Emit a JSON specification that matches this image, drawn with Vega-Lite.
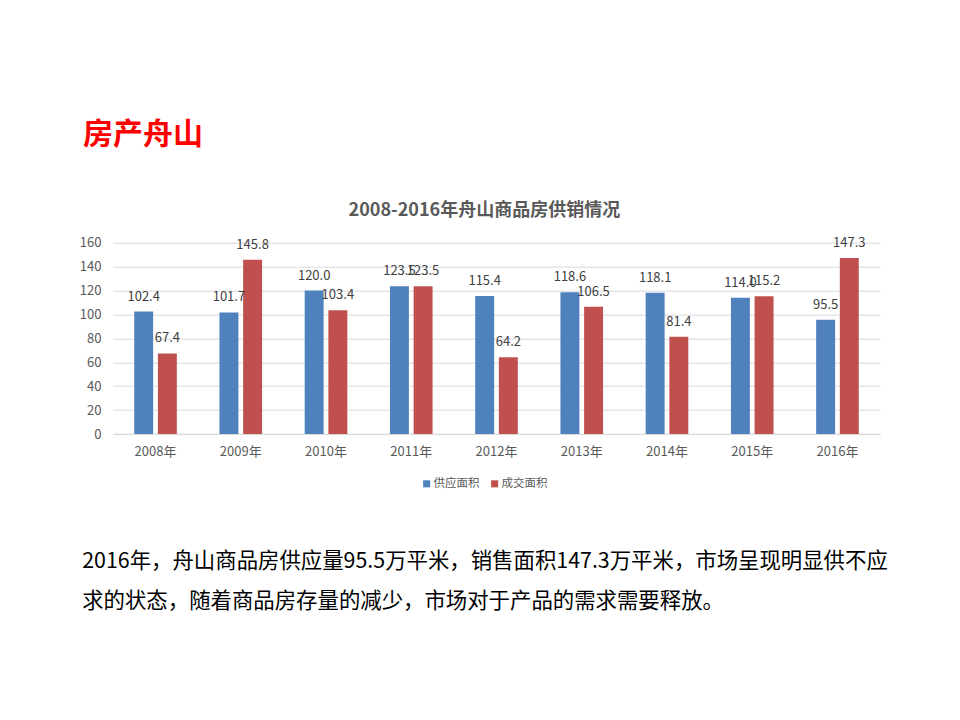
{
  "$schema": "https://vega.github.io/schema/vega-lite/v6.json",
  "width": 767.2,
  "height": 191.3,
  "autosize": "none",
  "padding": {"left": 112.9, "top": 242.7, "right": 79.9, "bottom": 286},
  "background": "#ffffff",
  "config": {
    "font": "Noto Sans CJK SC",
    "view": {"stroke": null}
  },
  "title": {
    "text": "房产舟山",
    "anchor": "start",
    "frame": "group",
    "dx": -30,
    "baseline": "bottom",
    "offset": 21,
    "fontSize": 30,
    "fontWeight": "bold",
    "color": "#ff0000"
  },
  "data": {
    "values": [
      {"year": "2008年", "series": "供应面积", "value": 102.4},
      {"year": "2008年", "series": "成交面积", "value": 67.4},
      {"year": "2009年", "series": "供应面积", "value": 101.7},
      {"year": "2009年", "series": "成交面积", "value": 145.8},
      {"year": "2010年", "series": "供应面积", "value": 120.0},
      {"year": "2010年", "series": "成交面积", "value": 103.4},
      {"year": "2011年", "series": "供应面积", "value": 123.5},
      {"year": "2011年", "series": "成交面积", "value": 123.5},
      {"year": "2012年", "series": "供应面积", "value": 115.4},
      {"year": "2012年", "series": "成交面积", "value": 64.2},
      {"year": "2013年", "series": "供应面积", "value": 118.6},
      {"year": "2013年", "series": "成交面积", "value": 106.5},
      {"year": "2014年", "series": "供应面积", "value": 118.1},
      {"year": "2014年", "series": "成交面积", "value": 81.4},
      {"year": "2015年", "series": "供应面积", "value": 114.0},
      {"year": "2015年", "series": "成交面积", "value": 115.2},
      {"year": "2016年", "series": "供应面积", "value": 95.5},
      {"year": "2016年", "series": "成交面积", "value": 147.3}
    ]
  },
  "encoding": {
    "x": {
      "field": "year",
      "type": "nominal",
      "sort": null,
      "scale": {"paddingInner": 0, "paddingOuter": 0},
      "axis": {
        "labelAngle": 0,
        "labelFontSize": 13,
        "labelColor": "#595959",
        "labelPadding": 11,
        "ticks": false,
        "domainColor": "#d9d9d9",
        "domainWidth": 1,
        "title": [
          "2016年，舟山商品房供应量95.5万平米，销售面积147.3万平米，市场呈现明显供不应",
          "求的状态，随着商品房存量的减少，市场对于产品的需求需要释放。"
        ],
        "titleFontSize": 21.4,
        "titleFontWeight": "normal",
        "titleColor": "#000000",
        "titleAlign": "left",
        "titleBaseline": "top",
        "titleAnchor": "start",
        "titleX": -31.2,
        "titleY": 116,
        "titleLineHeight": 40
      }
    },
    "xOffset": {
      "field": "series",
      "type": "nominal",
      "scale": {"domain": ["供应面积", "成交面积"], "paddingInner": 0.2, "paddingOuter": 0.9}
    },
    "y": {
      "field": "value",
      "type": "quantitative",
      "scale": {"domain": [0, 160]},
      "axis": {
        "values": [0, 20, 40, 60, 80, 100, 120, 140, 160],
        "labelFontSize": 13,
        "labelColor": "#595959",
        "labelPadding": 12,
        "ticks": false,
        "domain": false,
        "gridColor": "#d9d9d9",
        "gridWidth": 1,
        "title": "2008-2016年舟山商品房供销情况",
        "titleAngle": 0,
        "titleAlign": "center",
        "titleBaseline": "middle",
        "titleX": 371,
        "titleY": -32.7,
        "titleFontSize": 18,
        "titleFontWeight": "bold",
        "titleColor": "#595959"
      }
    }
  },
  "layer": [
    {
      "mark": {"type": "bar"},
      "encoding": {
        "color": {
          "field": "series",
          "type": "nominal",
          "scale": {"domain": ["供应面积", "成交面积"], "range": ["#4f81bd", "#c0504d"]},
          "legend": {
            "title": null,
            "orient": "none",
            "direction": "horizontal",
            "legendX": 308,
            "legendY": 235,
            "symbolType": "square",
            "symbolSize": 50,
            "symbolStrokeWidth": 0,
            "labelFontSize": 11.5,
            "labelColor": "#595959",
            "labelOffset": 1,
            "columnPadding": 9
          }
        }
      }
    },
    {
      "mark": {"type": "text", "baseline": "alphabetic", "dy": -11, "fontSize": 13, "color": "#404040"},
      "encoding": {
        "text": {"field": "value", "type": "quantitative", "format": ".1f"}
      }
    }
  ]
}
